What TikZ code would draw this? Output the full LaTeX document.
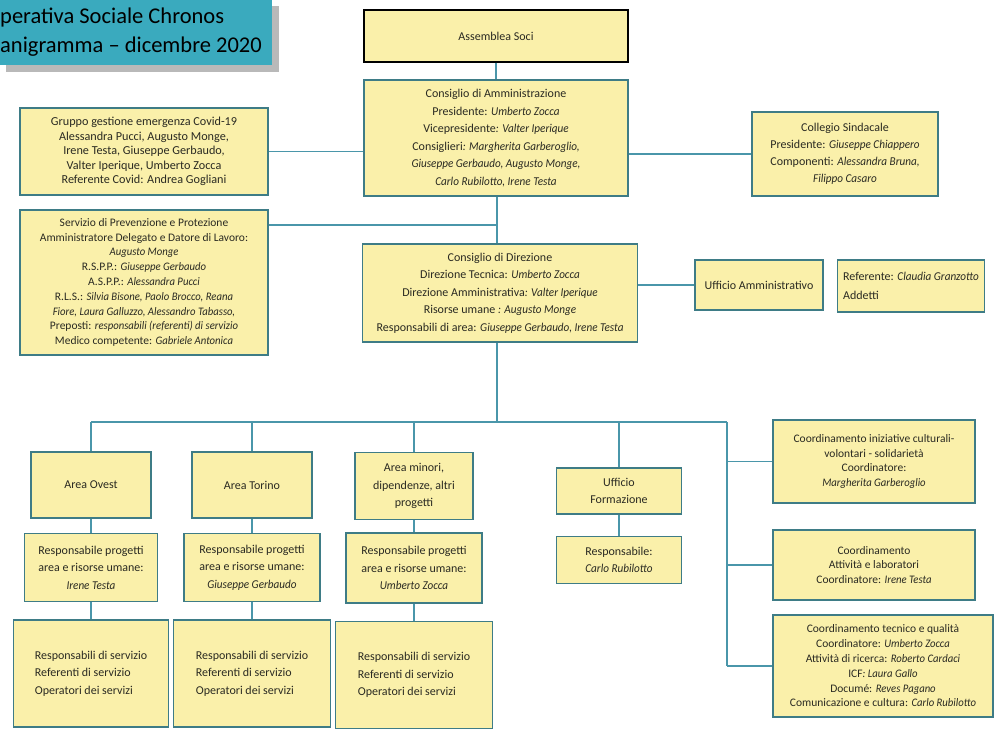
\documentclass[tikz,border=0pt]{standalone}
\usepackage{fontspec}
\setmainfont{Carlito}[ItalicFeatures={FakeStretch=0.93}]
\usetikzlibrary{positioning}

\definecolor{boxfill}{HTML}{FAF0AA}
\definecolor{boxline}{HTML}{3E7C86}
\definecolor{linkcol}{HTML}{4A96AA}
\definecolor{titlecol}{HTML}{3AAABE}
\definecolor{txt}{HTML}{2A2A22}

\begin{document}
\begin{tikzpicture}[x=1pt,y=-1pt,node distance=14pt,
	box/.style={draw=boxline,fill=boxfill,line width=1.4pt,align=center,inner sep=2pt,text=txt,font=\fontsize{12}{17.5}\selectfont},
	tight/.style={font=\fontsize{11.5}{14.8}\selectfont},
	link/.style={draw=linkcol,line width=1.4pt}]
	\useasboundingbox (0,0) rectangle (994,729);

	% titolo
	\fill[gray!55] (6,6) rectangle (279,72);
	\fill[titlecol] (0,0) rectangle (272,65);
	\node[anchor=north west,align=left,inner sep=0,font=\fontsize{22.5}{28.5}\selectfont] (titolo) at (0,8) {perativa Sociale Chronos\\anigramma – dicembre 2020};

	% vertice
	\node[box,draw=black,minimum width=264,minimum height=52](assemblea) at (496,36) {Assemblea Soci};
	\node[box,minimum width=264,minimum height=116](cda) at (496,138) {Consiglio di Amministrazione\\Presidente: \textit{Umberto Zocca}\\Vicepresidente\textit{: Valter Iperique}\\Consiglieri\textit{: Margherita Garberoglio,}\\\textit{Giuseppe Gerbaudo, Augusto Monge,}\\\textit{Carlo Rubilotto, Irene Testa}};
	\node[box,font=\fontsize{12.2}{14.6}\selectfont,minimum width=248,minimum height=87](covid) at (144,151.5) {Gruppo gestione emergenza Covid-19\\Alessandra Pucci, Augusto Monge,\\Irene Testa, Giuseppe Gerbaudo,\\Valter Iperique, Umberto Zocca\\Referente Covid: Andrea Gogliani};
	\node[box,font=\fontsize{12}{17}\selectfont,minimum width=186,minimum height=84](collegio) at (845,154) {Collegio Sindacale\\Presidente: \textit{Giuseppe Chiappero}\\Componenti: \textit{Alessandra Bruna,}\\\textit{Filippo Casaro}};
	\node[box,tight,minimum width=248,minimum height=145](spp) at (144,282.5) {Servizio di Prevenzione e Protezione\\Amministratore Delegato e Datore di Lavoro:\\\textit{Augusto Monge}\\R.S.P.P.: \textit{Giuseppe Gerbaudo}\\A.S.P.P.: \textit{Alessandra Pucci}\\R.L.S.: \textit{Silvia Bisone, Paolo Brocco, Reana}\\\textit{Fiore, Laura Galluzzo, Alessandro Tabasso,}\\Preposti: \textit{responsabili (referenti) di servizio}\\Medico competente: \textit{Gabriele Antonica}};
	\node[box,minimum width=275,minimum height=98](cdd) at (500,293) {Consiglio di Direzione\\Direzione Tecnica: \textit{Umberto Zocca}\\Direzione Amministrativa\textit{: Valter Iperique}\\Risorse umane \textit{: Augusto Monge}\\Responsabili di area: \textit{Giuseppe Gerbaudo, Irene Testa}};
	\node[box,minimum width=128,minimum height=50](uffamm) at (759,285) {Ufficio Amministrativo};
	\node[box,align=left,font=\fontsize{12}{19}\selectfont,minimum width=147,minimum height=52](referente) at (911,286) {Referente: \textit{Claudia Granzotto}\\Addetti};

	% aree
	\node[box,minimum width=120,minimum height=66](ovest) at (91,485) {Area Ovest};
	\node[box,minimum width=120,minimum height=66](torino) at (252,485) {Area Torino};
	\node[box,minimum width=118,minimum height=67](minori) at (414,486) {Area minori,\\dipendenze, altri\\progetti};
	\node[box,minimum width=125,minimum height=46](formazione) at (619,491) {Ufficio\\Formazione};

	\node[box,minimum width=133,minimum height=68,below=14pt of ovest](respovest) {Responsabile progetti\\area e risorse umane:\\\textit{Irene Testa}};
	\node[box,minimum width=136,minimum height=68,below=14pt of torino](resptorino) {Responsabile progetti\\area e risorse umane:\\\textit{Giuseppe Gerbaudo}};
	\node[box,minimum width=136,minimum height=70,below=12pt of minori](respminori) {Responsabile progetti\\area e risorse umane:\\\textit{Umberto Zocca}};
	\node[box,minimum width=125,minimum height=47,below=21pt of formazione](respform) {Responsabile:\\\textit{Carlo Rubilotto}};

	\node[box,align=left,minimum width=155,minimum height=107,below=17pt of respovest](servovest) {Responsabili di servizio\\Referenti di servizio\\Operatori dei servizi};
	\node[box,align=left,minimum width=157,minimum height=107,below=17pt of resptorino](servtorino) {Responsabili di servizio\\Referenti di servizio\\Operatori dei servizi};
	\node[box,align=left,minimum width=157,minimum height=107,below=17pt of respminori](servminori) {Responsabili di servizio\\Referenti di servizio\\Operatori dei servizi};

	% coordinamenti
	\node[box,tight,minimum width=202,minimum height=83](coordcult) at (874,461.5) {Coordinamento iniziative culturali-\\volontari - solidarietà\\Coordinatore:\\\textit{Margherita Garberoglio}};
	\node[box,tight,minimum width=202,minimum height=70](coordatt) at (874,565) {Coordinamento\\Attività e laboratori\\Coordinatore: \textit{Irene Testa}};
	\node[box,tight,minimum width=220,minimum height=102](coordtec) at (883,666) {Coordinamento tecnico e qualità\\Coordinatore: \textit{Umberto Zocca}\\Attività di ricerca: \textit{Roberto Cardaci}\\ICF\textit{: Laura Gallo}\\Documé: \textit{Reves Pagano}\\Comunicazione e cultura: \textit{Carlo Rubilotto}};

	% collegamenti
	\coordinate (tronco) at (497,225);
	\coordinate (bus) at (497,422);
	\coordinate (rbus) at (727,422);
	\draw[link] (assemblea) -- (cda);
	\draw[link] (cda.south -| tronco) -- (cdd.north -| tronco);
	\draw[link] (covid.east) -- (covid.east -| cda.west);
	\draw[link] (collegio.west) -- (collegio.west -| cda.east);
	\draw[link] (tronco -| spp.east) -- (tronco);
	\draw[link] (uffamm.west) -- (uffamm.west -| cdd.east);
	\draw[link] (cdd.south -| bus) -- (bus);
	\draw[link] (bus -| ovest) -- (rbus);
	\foreach \n in {ovest,torino,minori,formazione}
		\draw[link] (bus -| \n) -- (\n.north);
	\draw[link] (ovest) -- (respovest) -- (servovest);
	\draw[link] (torino) -- (resptorino) -- (servtorino);
	\draw[link] (minori) -- (respminori) -- (servminori);
	\draw[link] (formazione) -- (respform);
	\draw[link] (rbus) -- (rbus |- coordtec.west);
	\foreach \n in {coordcult,coordatt,coordtec}
		\draw[link] (\n.west -| rbus) -- (\n.west);
\end{tikzpicture}
\end{document}
